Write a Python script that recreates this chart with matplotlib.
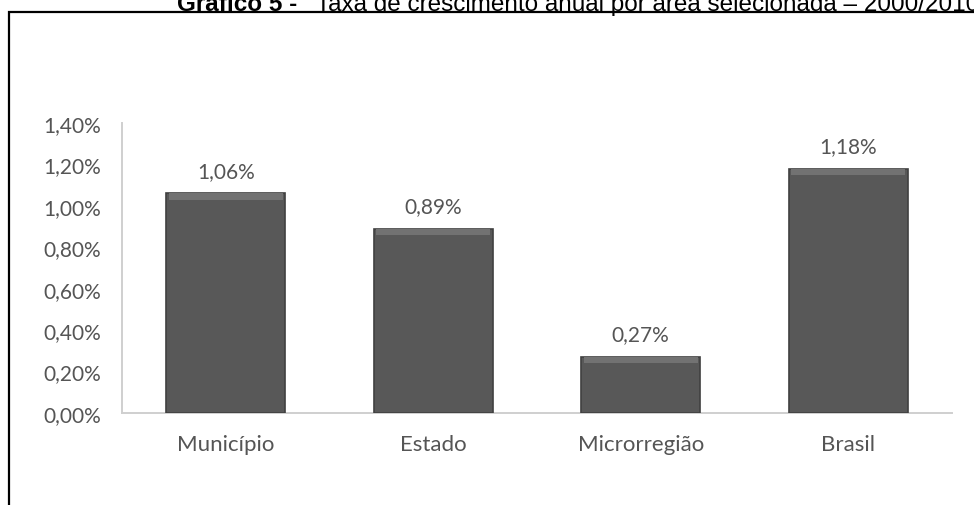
import matplotlib

matplotlib.use("Agg")
import matplotlib.pyplot as plt
from matplotlib.patches import Rectangle
from matplotlib.ticker import FuncFormatter

categories = ["Município", "Estado", "Microrregião", "Brasil"]
growth = [1.06, 0.89, 0.27, 1.18]  # % per year
yticks = [0.0, 0.2, 0.4, 0.6, 0.8, 1.0, 1.2, 1.4]

TXT = "#555555"
BAR = "#585858"


def pct(v, _=None):
    return f"{v:.2f}%".replace(".", ",")


fig = plt.figure(figsize=(9.74, 5.06), dpi=100)
ax = fig.add_axes([0.1253, 0.1818, 0.852, 0.5731])

x = list(range(len(categories)))
ax.bar(x, growth, width=0.575, color=BAR, edgecolor="#404040", linewidth=1.2, zorder=3)
# lighter bevel strip on top of each bar
bevel = 0.03
ax.bar(x, [bevel] * len(x), bottom=[v - bevel for v in growth], width=0.55,
       color="#727272", linewidth=0, zorder=4)
for xi, v in zip(x, growth):
    ax.annotate(pct(v), (xi, v), xytext=(0, 9), textcoords="offset points",
                ha="center", va="bottom", fontsize=15, color=TXT, family="Lato")

ax.set_xlim(-0.5, 3.5)
ax.set_ylim(0, 1.4)
ax.set_yticks(yticks)
ax.yaxis.set_major_formatter(FuncFormatter(pct))
ax.set_xticks(x)
ax.set_xticklabels(categories)
ax.tick_params(length=0, labelcolor=TXT)
ax.tick_params(axis="x", pad=15, labelsize=16)
ax.tick_params(axis="y", pad=15, labelsize=15)
for lab in ax.get_xticklabels() + ax.get_yticklabels():
    lab.set_family("Lato")
for s in ("top", "right"):
    ax.spines[s].set_visible(False)
for s in ("left", "bottom"):
    ax.spines[s].set_color("#cfcfcf")
    ax.spines[s].set_linewidth(1.4)

# black frame around the chart (cropped at right and bottom, as in the source)
fig.patches.append(Rectangle((8.5 / 974, -0.2), 1.2, 0.2 + 1 - 12.5 / 506,
                             transform=fig.transFigure, fill=False,
                             edgecolor="black", linewidth=1.6))

# title, partially cropped at the top and right as in the source image
fam = ["Liberation Sans Narrow", "Liberation Sans"]
base_y = 1 - 11 / 506
t1 = fig.text(177 / 974, base_y, "Gráfico 5 - ", fontsize=17.5, fontweight="bold",
              family=fam, va="baseline")
fig.canvas.draw()
bb = t1.get_window_extent()
fig.text(bb.x1 / fig.bbox.width + 0.012, base_y,
         "Taxa de crescimento anual por área selecionada – 2000/2010", fontsize=17.5,
         family=fam, va="baseline")

fig.savefig("out.png", dpi=100)
